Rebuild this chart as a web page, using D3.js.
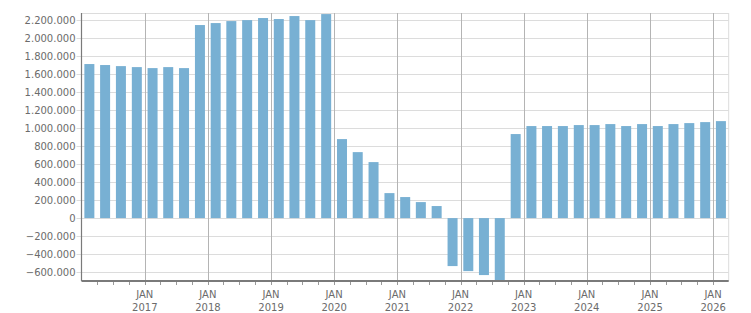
<!DOCTYPE html>
<html><head><meta charset="utf-8">
<script src="https://cdn.jsdelivr.net/npm/d3@7"></script>
<style>
html,body{margin:0;padding:0;background:#fff;}
svg{display:block;font-family:"DejaVu Sans",Verdana,sans-serif;}
</style></head>
<body>
<svg id="c" width="751" height="313"></svg>
<script>
// Quarter starts (YYYY-MM)
const quarters = [
 "2016-01","2016-04","2016-07","2016-10",
 "2017-01","2017-04","2017-07","2017-10",
 "2018-01","2018-04","2018-07","2018-10",
 "2019-01","2019-04","2019-07","2019-10",
 "2020-01","2020-04","2020-07","2020-10",
 "2021-01","2021-04","2021-07","2021-10",
 "2022-01","2022-04","2022-07","2022-10",
 "2023-01","2023-04","2023-07","2023-10",
 "2024-01","2024-04","2024-07","2024-10",
 "2025-01","2025-04","2025-07","2025-10",
 "2026-01"
];
const values = [
 1714000,1703000,1691000,1680000,
 1669000,1680000,1669000,2148000,
 2170000,2192000,2203000,2226000,
 2215000,2248000,2203000,2270000,
 879000,734000,623000,278000,
 234000,178000,134000,-534000,
 -590000,-634000,-690000,935000,
 1024000,1024000,1024000,1035000,
 1035000,1046000,1024000,1046000,
 1024000,1046000,1057000,1068000,
 1079000
];
const yTicks = [-600000,-400000,-200000,0,200000,400000,600000,800000,1000000,1200000,1400000,1600000,1800000,2000000,2200000];
const xYears = [2017,2018,2019,2020,2021,2022,2023,2024,2025,2026];
const xMonthLabel = "JAN";

const svg = d3.select("#c");
const L = 81.5, R = 728.7, T = 13, B = 281;
const parse = d3.timeParse("%Y-%m");
const x = d3.scaleTime().domain([new Date(2016,0,1), new Date(2026,3,1)]).range([L, R]);
const y = d3.scaleLinear().domain([-700000, 2282000]).range([B, T]);
const fmt = v => d3.format(",")(v).replace(/,/g, ".");

// horizontal grid
svg.append("g").selectAll("line").data(yTicks).join("line")
  .attr("x1", L-5).attr("x2", R)
  .attr("y1", d => Math.round(y(d))+0.5).attr("y2", d => Math.round(y(d))+0.5)
  .attr("stroke", "#dcdcdc").attr("stroke-width", 1);
// top & right border
svg.append("line").attr("x1", L).attr("x2", R).attr("y1", T+0.5).attr("y2", T+0.5).attr("stroke", "#dcdcdc");
svg.append("line").attr("x1", R).attr("x2", R).attr("y1", T).attr("y2", B).attr("stroke", "#dcdcdc");

// vertical grid at JAN
const yearDates = xYears.map(yv => new Date(yv,0,1));
svg.append("g").selectAll("line").data(yearDates).join("line")
  .attr("x1", d => Math.round(x(d))+0.5).attr("x2", d => Math.round(x(d))+0.5)
  .attr("y1", T).attr("y2", B+4)
  .attr("stroke", "#b4b4b4").attr("stroke-width", 1);

// bars
const bw = 10;
const mid = q => { const s = parse(q); const e = d3.timeMonth.offset(s, 3); return new Date((s.getTime()+e.getTime())/2); };
svg.append("g").selectAll("rect").data(quarters.map((q,i)=>({q, v: values[i]}))).join("rect")
  .attr("x", d => x(mid(d.q)) - bw/2)
  .attr("width", bw)
  .attr("y", d => y(Math.max(0, d.v)))
  .attr("height", d => Math.abs(y(d.v) - y(0)))
  .attr("fill", "#78b0d3");

// minor quarter ticks
const qTicks = d3.timeMonth.every(3).range(new Date(2016,3,1), new Date(2026,3,1));
svg.append("g").selectAll("line").data(qTicks).join("line")
  .attr("x1", d => Math.round(x(d))+0.5).attr("x2", d => Math.round(x(d))+0.5)
  .attr("y1", B).attr("y2", B+4)
  .attr("stroke", "#999");

// axes lines
svg.append("line").attr("x1", L).attr("x2", L).attr("y1", T).attr("y2", B)
  .attr("stroke", "#7a7a7a").attr("stroke-width", 1.2);
svg.append("line").attr("x1", L).attr("x2", R).attr("y1", B).attr("y2", B)
  .attr("stroke", "#7a7a7a").attr("stroke-width", 2);

// y labels
svg.append("g").selectAll("text").data(yTicks).join("text")
  .attr("x", L-6).attr("y", d => y(d)).attr("dy", "0.35em")
  .attr("text-anchor", "end").attr("font-size", 10).attr("fill", "#6b6b6b")
  .text(fmt);

// x labels
const xl = svg.append("g").selectAll("g").data(yearDates).join("g")
  .attr("transform", d => `translate(${x(d)},0)`);
xl.append("text").attr("y", 298).attr("text-anchor", "middle").attr("font-size", 10).attr("fill", "#6b6b6b").text(xMonthLabel);
xl.append("text").attr("y", 311).attr("text-anchor", "middle").attr("font-size", 10).attr("fill", "#6b6b6b").text(d => d.getFullYear());
</script>
</body></html>
